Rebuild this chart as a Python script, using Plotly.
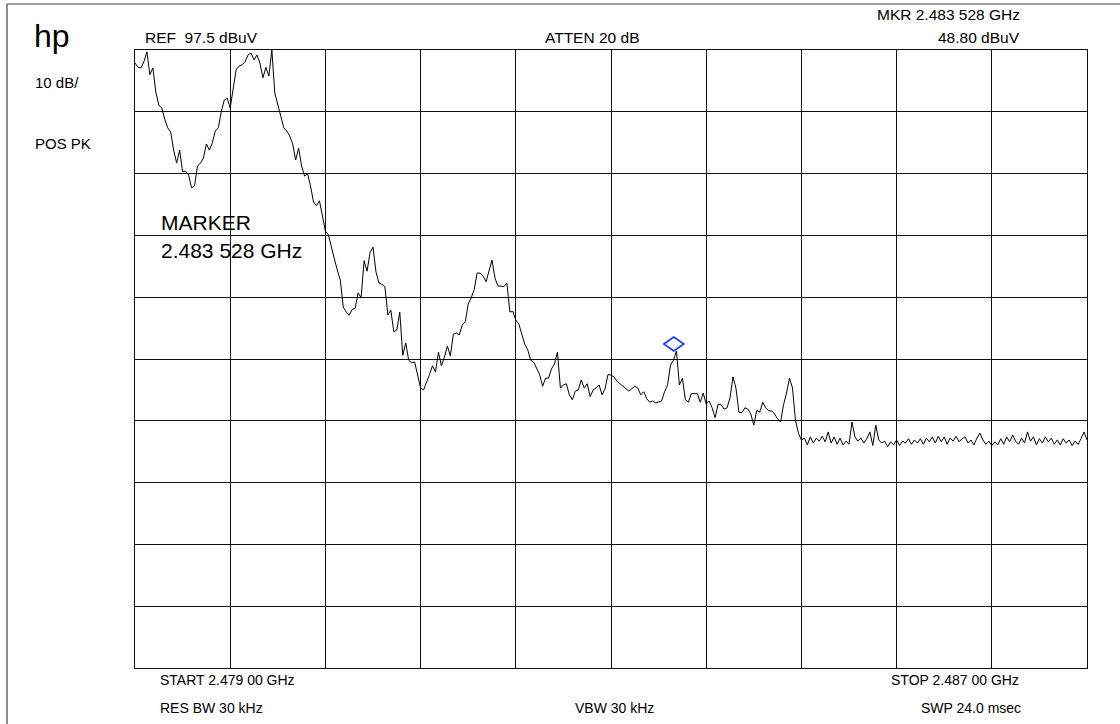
import numpy as np
import plotly.graph_objects as go

# ---------------- data ----------------
START_GHZ = 2.479
STOP_GHZ = 2.487
REF_LEVEL = 97.5          # dBuV, top of screen
DB_PER_DIV = 10
N_DIV = 10

MARKER_GHZ = 2.483528
MARKER_LEVEL = 48.80

# trace levels (dBuV) at the sweep points
LEVEL_A = [95.4, 94.7, 94.6, 95.6, 97.2, 93.5, 94.6, 90.7, 88.6, 88.1,
           86.3, 84.9, 84.2, 81.3, 79.2, 81.3, 77.8, 77.9, 77.3, 75.2,
           75.5, 78.7, 79.2, 80.0, 82.3, 81.3, 82.5, 84.4, 84.9, 87.5,
           89.4, 89.7, 88.1, 91.4, 94.3, 94.9, 95.1, 95.6, 96.7, 97.0,
           95.9, 96.7, 95.4, 93.0, 94.7, 93.3, 97.5, 90.5, 88.4, 86.8,
           84.9, 84.4, 83.6, 82.3, 79.7, 81.6, 78.7, 77.1, 77.5, 75.5,
           72.9, 72.3, 73.1, 70.8, 68.2, 67.6, 65.5, 63.7, 61.9, 60.3]
LEVEL_B = [55.9, 55.1, 54.6, 55.5, 55.7, 58.2, 57.4, 63.4, 61.7, 64.7,
           65.6, 61.6, 59.8, 59.6, 59.2, 54.6, 55.4, 51.9, 52.2, 55.1,
           48.1, 50.1, 47.3, 46.9, 47.0, 44.8, 42.8, 42.5, 43.6, 45.0,
           46.4, 45.4, 48.6, 46.4, 47.8, 49.6, 48.0, 51.5, 51.7, 51.4,
           53.0, 53.5, 56.4, 57.4, 58.7, 61.4, 61.4, 60.9, 60.0, 61.9,
           63.5, 60.6, 59.3, 59.3, 59.2, 59.8, 55.1, 55.2, 53.8, 53.2,
           51.7, 49.9, 49.0, 47.3, 47.0, 46.0, 45.0, 43.1, 44.4, 44.4]
LEVEL_C = [45.9, 46.7, 48.6, 42.8, 43.3, 43.5, 41.7, 40.9, 42.3, 42.5,
           44.1, 42.8, 43.5, 41.4, 42.5, 42.8, 43.3, 41.7, 42.7, 45.0,
           44.9, 44.6, 43.9, 43.5, 43.1, 42.7, 42.3, 42.7, 43.1, 42.8,
           41.7, 42.2, 41.1, 40.5, 40.7, 40.4, 40.5, 40.7, 42.2, 43.3,
           46.5, 47.3, 48.8, 43.3, 44.4, 40.9, 40.5, 41.9, 41.9, 41.9,
           40.5, 42.0, 40.2, 40.7, 39.6, 38.0, 40.2, 40.1, 39.4, 39.6,
           41.2, 44.6, 42.8, 38.9, 38.8, 39.6, 39.4, 38.6, 36.8, 39.2,
           38.9, 40.5, 39.6, 39.1, 39.1, 38.6, 37.8, 37.3, 40.1, 42.0,
           44.4, 42.8, 37.6, 35.5, 34.4]
LEVEL_D = [34.7, 33.6, 34.9, 33.9, 34.7, 34.2, 35.0, 34.1, 35.7, 33.9,
           34.9, 33.7, 34.7, 33.6, 34.2, 33.7, 37.3, 34.9, 34.2, 34.7,
           33.9, 34.6, 35.7, 33.5, 36.8, 34.4, 33.9, 34.2, 33.3, 34.1,
           33.6, 34.4, 33.5, 34.2, 33.9, 34.6, 33.7, 34.4, 33.9, 34.6,
           33.7, 34.7, 34.1, 34.9, 33.9, 35.0, 34.1, 34.9, 33.7, 34.7,
           34.2, 35.0, 34.1, 34.6, 34.9, 33.9, 34.4, 33.6, 34.7, 35.5,
           34.4, 33.7, 34.2, 33.5, 34.1, 33.6, 34.6, 33.7, 34.9, 34.1,
           35.2, 34.2, 33.7, 34.7, 33.9, 35.7, 34.2, 34.9, 33.6, 34.6,
           33.9, 34.9, 34.1, 34.7, 33.7, 34.4, 33.6, 34.6, 33.9, 34.4,
           33.5, 34.2, 33.7, 34.6, 35.7, 34.4]
LEVELS = LEVEL_A + LEVEL_B + LEVEL_C + LEVEL_D
FREQS = np.linspace(START_GHZ, STOP_GHZ, len(LEVELS))   # sweep points

# ---------------- figure geometry ----------------
W, H = 1120, 724
ML, MR, MT, MB = 135, 33, 50, 56
PW, PH = W - ML - MR, H - MT - MB


def px(x, y):
    """figure pixel -> paper coords"""
    return (x - ML) / PW, (H - MB - y) / PH


FONT = "Liberation Sans, Arial, Helvetica, sans-serif"
INK = "#000000"

fig = go.Figure()
fig.add_trace(go.Scatter(x=FREQS, y=LEVELS, mode="lines",
                         line=dict(color="#000000", width=1),
                         hoverinfo="skip", showlegend=False))

bottom = REF_LEVEL - DB_PER_DIV * N_DIV
axis_common = dict(showticklabels=False, ticks="", showgrid=True,
                   gridcolor="#111111", gridwidth=1, zeroline=False,
                   showline=True, linecolor="#111111", linewidth=1,
                   mirror=True, fixedrange=True)
fig.update_xaxes(range=[START_GHZ, STOP_GHZ], tick0=START_GHZ,
                 dtick=(STOP_GHZ - START_GHZ) / N_DIV, **axis_common)
fig.update_yaxes(range=[bottom, REF_LEVEL], tick0=bottom,
                 dtick=DB_PER_DIV, **axis_common)

# marker diamond (pixel-sized, anchored to the marker data point)
fig.add_shape(type="path", xref="x", yref="y",
              xsizemode="pixel", ysizemode="pixel",
              xanchor=MARKER_GHZ, yanchor=MARKER_LEVEL,
              path="M -10,7 L 0,14 L 10,7 L 0,0 Z",
              line=dict(color="#1a35ff", width=1.6), layer="above")

# outer frame (top and left edges)
x0, y0 = px(7, 4)
x1, _ = px(1120, 4)
_, y2 = px(7, 724)
fig.add_shape(type="line", xref="paper", yref="paper", x0=x0, y0=y0, x1=x1, y1=y0,
              line=dict(color="#444444", width=1.2))
fig.add_shape(type="line", xref="paper", yref="paper", x0=x0, y0=y0, x1=x0, y1=y2,
              line=dict(color="#444444", width=1.2))


def label(text, x, y, size=16, anchor="left"):
    ax, ay = px(x, y)
    fig.add_annotation(text=text, x=ax, y=ay, xref="paper", yref="paper",
                       xanchor=anchor, yanchor="middle", showarrow=False,
                       font=dict(family=FONT, size=size, color=INK))


label("hp", 32, 36, size=32)
label("10 dB/", 33, 83, size=15)
label("POS PK", 33, 143, size=15)
label("REF&nbsp;&nbsp;97.5 dBuV", 143, 37, size=15.5)
label("ATTEN 20 dB", 543, 37, size=15.5)
label("MKR 2.483 528 GHz", 1022, 15, size=15.5, anchor="right")
label("48.80 dBuV", 1022, 37, size=15.5, anchor="right")
label("MARKER", 159, 223, size=21)
label("2.483 528 GHz", 159, 251, size=21)
label("START 2.479 00 GHz", 158, 680, size=14)
label("STOP 2.487 00 GHz", 1021, 680, size=14, anchor="right")
label("RES BW 30 kHz", 158, 708, size=14)
label("VBW 30 kHz", 573, 708, size=14)
label("SWP 24.0 msec", 1023, 708, size=14, anchor="right")

fig.update_layout(width=W, height=H, margin=dict(l=ML, r=MR, t=MT, b=MB),
                  paper_bgcolor="#ffffff", plot_bgcolor="#ffffff",
                  showlegend=False)

fig.write_html("out.html", config={"displayModeBar": False},
               post_script="document.body.style.margin='0';"
                           "document.body.style.overflow='hidden';")
